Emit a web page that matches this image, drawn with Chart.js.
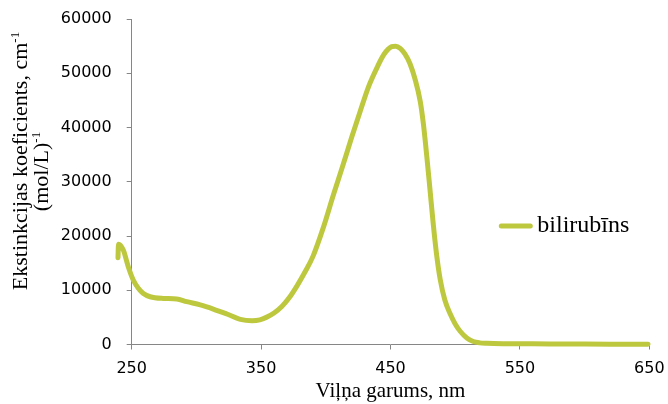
<!DOCTYPE html>
<html lang="lv">
<head>
<meta charset="utf-8">
<title>bilirubīns</title>
<script src="https://cdn.jsdelivr.net/npm/chart.js@4"></script>
<style>
    html, body { margin: 0; padding: 0; background: #fff; }
    .chart-box { width: 668px; height: 404px; position: relative; }
</style>
</head>
<body>
<div class="chart-box">
    <canvas id="spectrumChart"></canvas>
</div>
<script>
//! Dati
const wavelength = [239.4, 239.8, 243.5, 247.4, 251.2, 255.1, 259, 264.2, 274.4, 284.8, 292.5, 303, 313, 323.5, 334, 343, 349, 354, 360, 366, 372, 378, 384, 390, 398, 405.9, 413.6, 420, 426.6, 433, 439.5, 445, 451, 454, 457.5, 461, 465, 469, 473, 475.5, 478, 480.5, 483, 485.5, 488.4, 492, 496, 500, 504, 509, 514, 519, 524.5, 540, 560, 580, 600, 620, 640, 649];
const extinction = [16000, 18500, 17400, 14300, 11900, 10360, 9400, 8800, 8500, 8400, 7900, 7300, 6540, 5620, 4640, 4400, 4550, 5000, 5800, 7000, 8700, 10900, 13400, 16200, 21500, 27600, 33300, 38200, 43000, 47500, 51000, 53500, 54900, 55000, 54600, 53600, 51800, 48900, 44800, 40500, 34800, 28600, 22300, 16800, 12000, 8200, 5700, 3800, 2400, 1200, 550, 300, 220, 150, 120, 100, 80, 60, 50, 40];
const xTicks = [250, 350, 450, 550, 650];
const yTicks = [0, 10000, 20000, 30000, 40000, 50000, 60000];

const seriesName = 'bilirubīns';
const xTitle = 'Viļņa garums, nm';
const yTitle = ['Ekstinkcijas koeficients, cm', '(mol/L)'];

const lineColor = '#bdc83f';
const axisColor = '#868686';
const serif = '"Liberation Serif", "Times New Roman", serif';

//! virsraksti un leģenda
function drawSup(ctx, text, sup, x, y, size) {
    // teksts ar augšrakstu "-1", centrēts ap x
    ctx.font = size + 'px ' + serif;
    const w1 = ctx.measureText(text).width;
    ctx.font = Math.round(size * 0.6) + 'px ' + serif;
    const w2 = ctx.measureText(sup).width;
    const start = x - (w1 + w2) / 2;
    ctx.textAlign = 'left';
    ctx.textBaseline = 'alphabetic';
    ctx.font = size + 'px ' + serif;
    ctx.fillText(text, start, y);
    ctx.font = Math.round(size * 0.6) + 'px ' + serif;
    ctx.fillText(sup, start + w1, y - size * 0.38);
}

const extras = {
    id: 'extras',
    afterDraw(chart) {
        const { ctx, chartArea } = chart;
        const ds = chart.data.datasets[0];
        ctx.save();
        ctx.fillStyle = '#000';

        // x ass
        ctx.font = '21px ' + serif;
        ctx.textAlign = 'center';
        ctx.textBaseline = 'alphabetic';
        ctx.fillText(xTitle, (chartArea.left + chartArea.right) / 2, 397);

        // y ass
        ctx.save();
        ctx.rotate(-Math.PI / 2);
        drawSup(ctx, yTitle[0], '-1', -161, 27, 22);
        drawSup(ctx, yTitle[1], '-1', -171.5, 48, 22);
        ctx.restore();

        // leģenda
        const ly = chartArea.top + 207;
        const lx = chartArea.right - 148;
        ctx.strokeStyle = ds.borderColor;
        ctx.lineWidth = 5;
        ctx.lineCap = 'round';
        ctx.beginPath();
        ctx.moveTo(lx, ly);
        ctx.lineTo(lx + 29, ly);
        ctx.stroke();
        ctx.font = '24px ' + serif;
        ctx.textAlign = 'left';
        ctx.textBaseline = 'middle';
        ctx.fillText(ds.label, lx + 36, ly);
        ctx.restore();
    }
};

//! grafiks
const ctx = document.getElementById('spectrumChart');

new Chart(ctx, {
    type: 'line',
    data: {
        datasets: [
            {
                label: seriesName,
                data: wavelength.map((w, i) => ({ x: w, y: extinction[i] })),
                borderColor: lineColor,
                backgroundColor: lineColor,
                borderWidth: 5,
                borderCapStyle: 'round',
                borderJoinStyle: 'round',
                cubicInterpolationMode: 'monotone',
                pointRadius: 0,
                clip: false,
            },
        ]
    },
    options: {
        responsive: true,
        maintainAspectRatio: false,
        animation: false,
        layout: {
            padding: { left: 0, top: 19, right: 18.7, bottom: 0 }
        },
        plugins: {
            legend: { display: false },
            tooltip: { enabled: false },
        },
        scales: {
            x: {
                type: 'linear',
                bounds: 'data',
                afterDataLimits: (scale) => {
                    // ass no 250 līdz 650, bet līkne sākas agrāk
                    scale.min = xTicks[0];
                    scale.max = xTicks[xTicks.length - 1];
                },
                afterBuildTicks: (scale) => {
                    scale.ticks = xTicks.map(v => ({ value: v }));
                },
                afterFit: (scale) => {
                    scale.height = 59.5;
                    scale.paddingLeft = 0;
                    scale.paddingRight = 0;
                },
                grid: {
                    drawOnChartArea: false,
                    color: axisColor,
                    tickLength: 5,
                },
                border: { color: axisColor },
                ticks: {
                    color: '#000',
                    font: { family: 'DejaVu Sans', size: 16 },
                    padding: 10,
                    maxRotation: 0,
                    callback: (v) => v,
                },
            },
            y: {
                min: 0,
                max: 60000,
                afterBuildTicks: (scale) => {
                    scale.ticks = yTicks.map(v => ({ value: v }));
                },
                afterFit: (scale) => {
                    scale.width = 131.7;
                    scale.paddingTop = 0;
                    scale.paddingBottom = 0;
                },
                grid: {
                    drawOnChartArea: false,
                    color: axisColor,
                    tickLength: 5,
                },
                border: { color: axisColor },
                ticks: {
                    color: '#000',
                    font: { family: 'DejaVu Sans', size: 16 },
                    padding: 15,
                    callback: (v) => v,
                },
            },
        }
    },
    plugins: [extras]
});
</script>
</body>
</html>
